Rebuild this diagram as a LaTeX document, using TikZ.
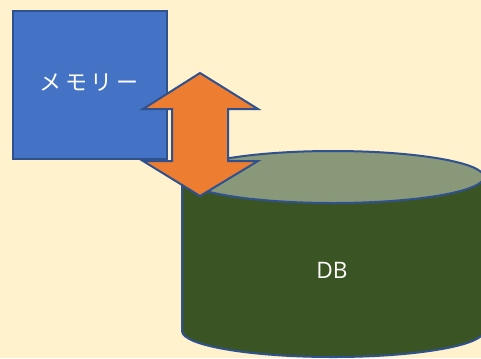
\documentclass[tikz,border=0pt]{standalone}
\usepackage{fontspec}
\newfontfamily\jpfont{Noto Sans CJK JP}
\setmainfont{Open Sans}
\definecolor{bgc}{HTML}{FFF2CC}
\definecolor{blu}{HTML}{4472C4}
\definecolor{bord}{HTML}{2F528F}
\definecolor{orng}{HTML}{ED7D31}
\definecolor{dgreen}{HTML}{3A5523}
\definecolor{lgreen}{HTML}{899878}
\begin{document}
\begin{tikzpicture}[x=0.75pt,y=-0.75pt,
  shp/.style={draw=bord,line width=1.5pt,line join=miter},
  lbl/.style={text=white,font=\jpfont\fontsize{16.5}{19}\selectfont}]
\fill[bgc] (0,0) rectangle (481,358);
\useasboundingbox (0,0) rectangle (481,358);
% memory box
\node[shp,fill=blu,minimum width=154*0.75pt,minimum height=148*0.75pt,anchor=north west,inner sep=0pt] (mem) at (12,10) {};
\node[lbl] (memt) at (89,83) {メ\,モ\,リ\,ー};
% cylinder
\path[shp,fill=dgreen] (182,177) -- (182,331) arc[start angle=180,end angle=0,x radius=151,y radius=26] -- (484,177) -- cycle;
\path[shp,fill=lgreen] (333,177) ellipse[x radius=151,y radius=26];
\node[text=white,font=\fontsize{17}{19}\selectfont] (db) at (332,270) {DB};
% double arrow
\path[shp,fill=orng] (200,73) -- (258,109) -- (228,109) -- (228,161) -- (258,161) -- (200,196) -- (143,161) -- (172,161) -- (172,109) -- (143,109) -- cycle;
\coordinate (arrtop) at (200,73);
\end{tikzpicture}
\end{document}
